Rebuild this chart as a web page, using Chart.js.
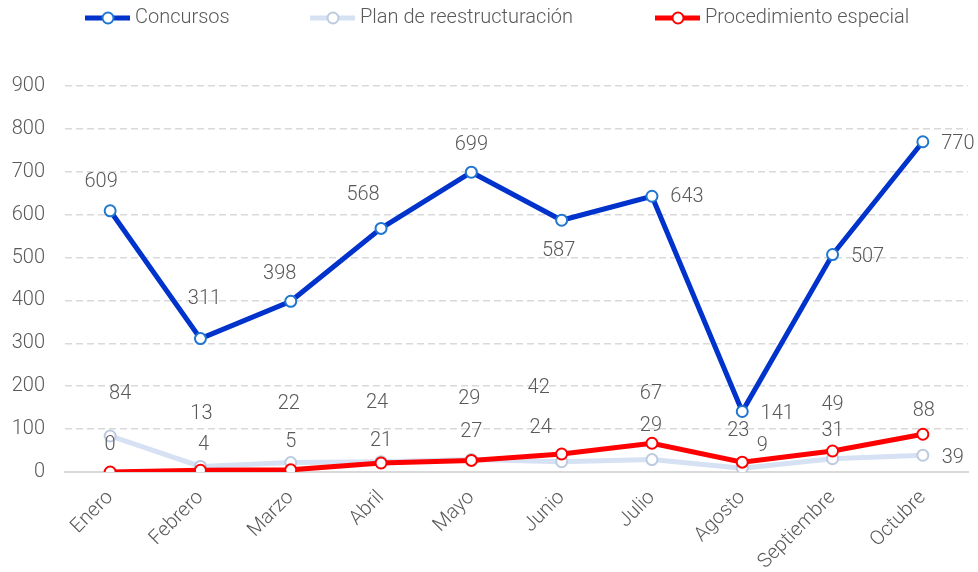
<!DOCTYPE html>
<html><head><meta charset="utf-8">
<script src="https://cdn.jsdelivr.net/npm/chart.js@4/dist/chart.umd.min.js"></script>
<style>html,body{margin:0;padding:0;background:#fff;}</style>
</head><body>
<canvas id="c" width="978" height="572"></canvas>
<script>
// ---- data ----
const months = ['Enero','Febrero','Marzo','Abril','Mayo','Junio','Julio','Agosto','Septiembre','Octubre'];
const concursos = [609,311,398,568,699,587,643,141,507,770];
const planReestructuracion = [84,13,22,24,29,24,29,9,31,39];
const procedimientoEspecial = [0,4,5,21,27,42,67,23,49,88];
const seriesNames = ['Concursos','Plan de reestructuración','Procedimiento especial'];
const yMin = 0, yMax = 900, yStep = 100;

// ---- styles ----
const FONT_FAMILY = 'Roboto, "Liberation Sans", sans-serif';
const TEXT_COLOR = '#595959';
const styles = [
  {line:'#0033CC', ring:'#1F77D0', order:0},
  {line:'#D6E2F3', ring:'#BCCBE0', order:2},
  {line:'#FF0000', ring:'#FF0000', order:1}
];
// label offsets (px) relative to each point
const labelShift = [
  [[-9,-29],[4,-40],[-11,-27],[-18,-33],[0,-27],[-3,31],[35,1],[35,2],[35,2],[35,2]],
  [[10,-42],[1,-52],[-2,-59],[-4,-59],[-2,-61],[-21,-34],[-1,-34],[20,-22],[0,-28],[30,3]],
  [[0,-27],[3,-25],[0,-28],[0,-22],[0,-28],[-23,-66],[-1,-49],[-4,-31],[0,-46],[1,-23]]
];

const seriesData = [concursos, planReestructuracion, procedimientoEspecial];

const datasets = seriesData.map((d,i)=>({
  label: seriesNames[i],
  data: d,
  borderColor: styles[i].line,
  backgroundColor: styles[i].line,
  borderWidth: 5,
  pointRadius: 5.5,
  pointBorderWidth: 2,
  pointBackgroundColor: '#FFFFFF',
  pointBorderColor: styles[i].ring,
  tension: 0,
  order: styles[i].order
}));

const labelPlugin = {
  id: 'valueLabels',
  afterDatasetsDraw(chart){
    const ctx = chart.ctx;
    ctx.save();
    ctx.font = '300 20px ' + FONT_FAMILY;
    ctx.fillStyle = TEXT_COLOR;
    ctx.textAlign = 'center';
    ctx.textBaseline = 'middle';
    chart.data.datasets.forEach((ds, di)=>{
      const meta = chart.getDatasetMeta(di);
      meta.data.forEach((pt, i)=>{
        const off = labelShift[di][i];
        ctx.fillText(String(ds.data[i]), pt.x + off[0], pt.y + off[1]);
      });
    });
    ctx.restore();
  }
};

const legendPlugin = {
  id: 'customLegend',
  afterDraw(chart){
    const ctx = chart.ctx;
    ctx.save();
    ctx.font = '300 20px ' + FONT_FAMILY;
    ctx.textBaseline = 'middle';
    ctx.textAlign = 'left';
    const y = 18;
    const starts = [85, 310, 655];
    chart.data.datasets.forEach((ds, i)=>{
      const x = starts[i];
      ctx.strokeStyle = ds.borderColor;
      ctx.lineWidth = 5;
      ctx.beginPath(); ctx.moveTo(x, y); ctx.lineTo(x + 45, y); ctx.stroke();
      ctx.beginPath(); ctx.arc(x + 23, y, 5.5, 0, Math.PI*2);
      ctx.fillStyle = '#FFFFFF'; ctx.fill();
      ctx.lineWidth = 2; ctx.strokeStyle = ds.pointBorderColor; ctx.stroke();
      ctx.fillStyle = TEXT_COLOR;
      ctx.fillText(ds.label, x + 50, y);
    });
    ctx.restore();
  }
};

new Chart(document.getElementById('c'), {
  type: 'line',
  data: { labels: months, datasets },
  plugins: [labelPlugin, legendPlugin],
  options: {
    responsive: false,
    devicePixelRatio: 1,
    animation: false,
    layout: { padding: { top: 86, right: 10, left: 0, bottom: 0 } },
    plugins: { legend: { display: false }, tooltip: { enabled: false } },
    scales: {
      x: {
        type: 'category',
        offset: true,
        grid: { display: false },
        border: { display: true, color: '#D9D9D9', width: 2 },
        ticks: { minRotation: 45, maxRotation: 45, padding: 6, color: TEXT_COLOR,
                 font: { family: FONT_FAMILY, size: 20, weight: '300' } },
        afterFit(s){ s.height = 100; }
      },
      y: {
        min: yMin, max: yMax,
        ticks: { stepSize: yStep, padding: 20, color: TEXT_COLOR,
                 font: { family: FONT_FAMILY, size: 20, weight: '300' } },
        grid: { color: '#D9D9D9', lineWidth: 1.5, drawTicks: false },
        border: { display: false, dash: (c)=> (c.tick && c.tick.value === 0) ? [] : [7,4] },
        afterFit(s){ s.width = 65; }
      }
    }
  }
});
</script>
</body></html>
